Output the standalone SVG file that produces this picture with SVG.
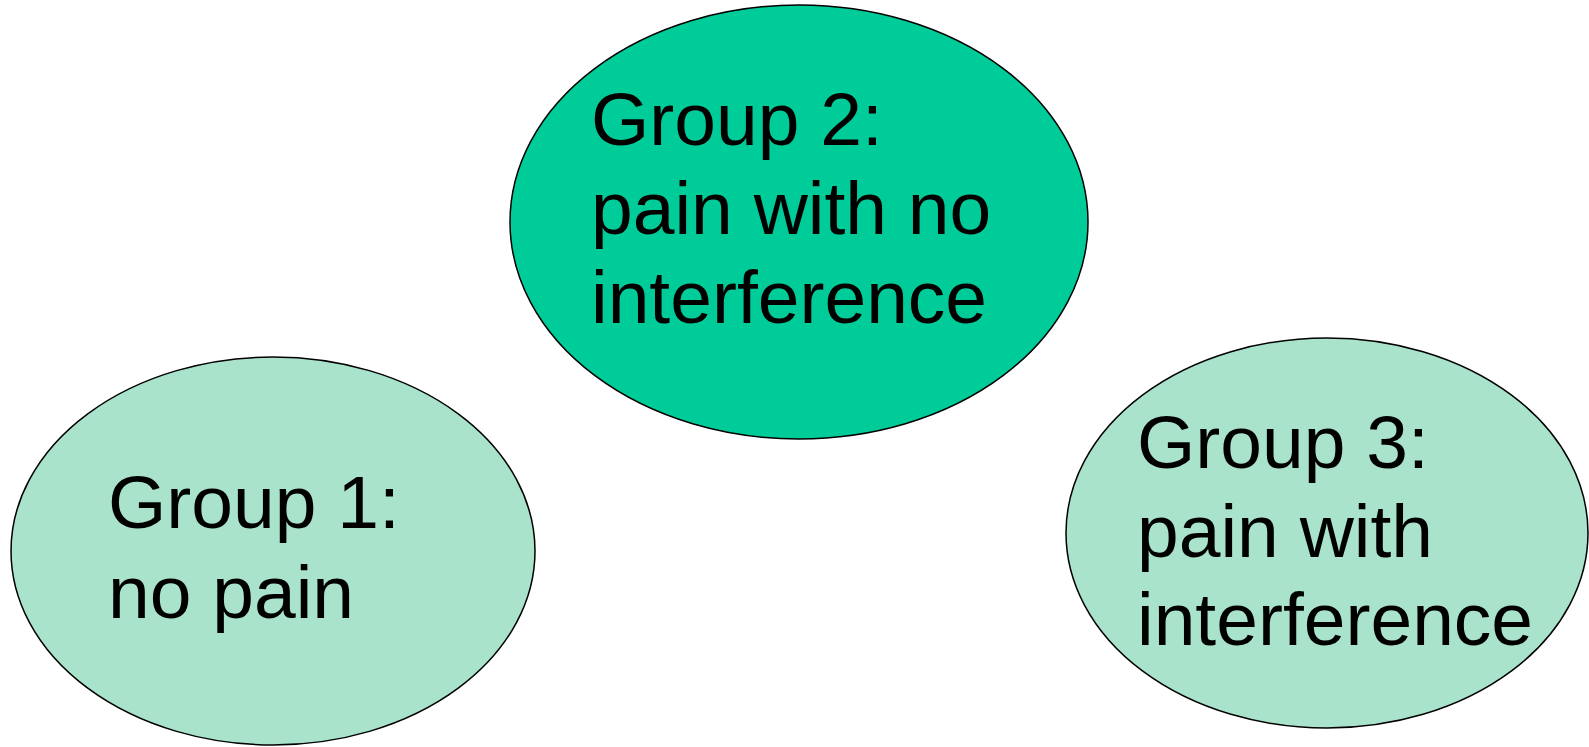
<svg xmlns="http://www.w3.org/2000/svg" width="1589" height="747" viewBox="0 0 1589 747">
<style>
.node ellipse{stroke:#000;stroke-width:1.5}
.light{fill:#A9E3CC}
.dark{fill:#00CC99}
text{font-family:"Liberation Sans",Arial,sans-serif;font-size:75px;fill:#000}
</style>
<rect width="1589" height="747" fill="#fff"/>
<g id="connectors"></g>
<g id="group1" class="node">
<ellipse class="light" cx="273" cy="551" rx="262" ry="194"/>
<text x="108" y="528">Group 1:</text>
<text x="108" y="618">no pain</text>
</g>
<g id="group2" class="node">
<ellipse class="dark" cx="799" cy="222" rx="289" ry="217"/>
<text x="591" y="145">Group 2:</text>
<text x="591" y="234">pain with no</text>
<text x="591" y="323">interference</text>
</g>
<g id="group3" class="node">
<ellipse class="light" cx="1327" cy="533" rx="261" ry="195"/>
<text x="1137" y="468">Group 3:</text>
<text x="1137" y="557">pain with</text>
<text x="1137" y="645">interference</text>
</g>
</svg>
